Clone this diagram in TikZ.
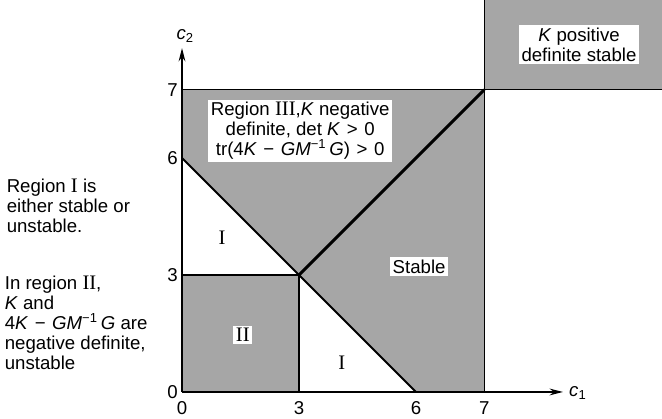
\documentclass[tikz,border=0pt]{standalone}
\usepackage{fontspec}
\setmainfont{Liberation Sans}
\newfontfamily\numfont{Liberation Serif}
\usetikzlibrary{arrows.meta}
\newcommand{\rn}[1]{{\numfont\fontsize{15.5}{15}\selectfont #1}}
\newcommand{\op}[1]{\hspace{0.35em}#1\hspace{0.35em}}
\tikzset{
  region/.style={fill=black!35},
  lbl/.style={fill=white, inner sep=2pt, align=center},
  note/.style={anchor=west, align=left, inner sep=0pt},
  axis/.style={line width=1.5pt},
  edge/.style={line width=1.1pt},
  cut/.style={line width=1.5pt},
}
\begin{document}
\begin{tikzpicture}[x=1.03cm, y=1.03cm, >={Stealth[length=10pt,width=5pt]},
    font=\fontsize{14}{15}\selectfont]
  \useasboundingbox (-4.667,-0.692) rectangle (12.308,10.051);
  \coordinate (O) at (0,0);
  \coordinate (xend) at (9.77,0);
  \coordinate (yend) at (0,8.82);
  \coordinate (P) at (3,3);
  \coordinate (Q) at (7.75,7.75);
  % ---------------- shaded regions ----------------
  \fill[region] (O) rectangle (P);
  \fill[region] (0,6) -- (0,7.75) -- (Q) -- (P) -- cycle;
  \fill[region] (P) -- (Q) -- (7.75,0) -- (6,0) -- cycle;
  \fill[region] (Q) rectangle (12.308,10.051);
  % ---------------- boundaries ----------------
  \draw[edge] (0,7.75) -- (Q) -- (7.75,0);
  \draw[edge] (7.75,10.051) -- (Q) -- (12.308,7.75);
  \draw[cut] (0,3) -- (P) -- (3,0);
  \draw[cut] (0,6) -- (6,0);
  \draw[line width=2.3pt] (P) -- (Q);
  % ---------------- axes ----------------
  \draw[->, axis] (O) -- (xend);
  \draw[->, axis] (O) -- (yend);
  \node (cone) at (10.15,-0.02) {\textit{c}\textsubscript{1}};
  \node (ctwo) at (0.08,9.13) {\textit{c}\textsubscript{2}};
  \foreach \v/\lab in {0/0, 3/3, 6/6, 7.75/7}
    \node (xt\lab) at (\v,-0.41) {\lab};
  \foreach \v/\lab in {0/0, 3/3, 6/6, 7.75/7}
    \node[anchor=east, inner sep=0pt] (yt\lab) at (-0.1,\v) {\lab};
  % ---------------- region labels ----------------
  \node[lbl] (reg3) at (3.03,6.69) {Region \rn{III},\textit{K} negative\\definite, det \textit{K}\op{>}0\\tr(4\textit{K}\op{−}\textit{GM}\textsuperscript{−1}\,\textit{G})\op{>}0};
  \node[lbl] (kpos) at (10.18,8.90) {\textit{K} positive\\definite stable};
  \node[lbl] (stab) at (6.08,3.21) {Stable};
  \node[lbl] (reg2) at (1.56,1.46) {\rn{II}};
  \node (reg1a) at (1.03,3.95) {\rn{I}};
  \node (reg1b) at (4.10,0.74) {\rn{I}};
  % ---------------- notes on the left ----------------
  \node[note] (note1) at (-4.5,4.77) {Region \rn{I} is\\either stable or\\unstable.};
  \node[note] (note2) at (-4.55,1.77) {In region \rn{II},\\\textit{K} and\\4\textit{K}\op{−}\textit{GM}\textsuperscript{−1}\,\textit{G} are\\negative definite,\\unstable};
\end{tikzpicture}
\end{document}
